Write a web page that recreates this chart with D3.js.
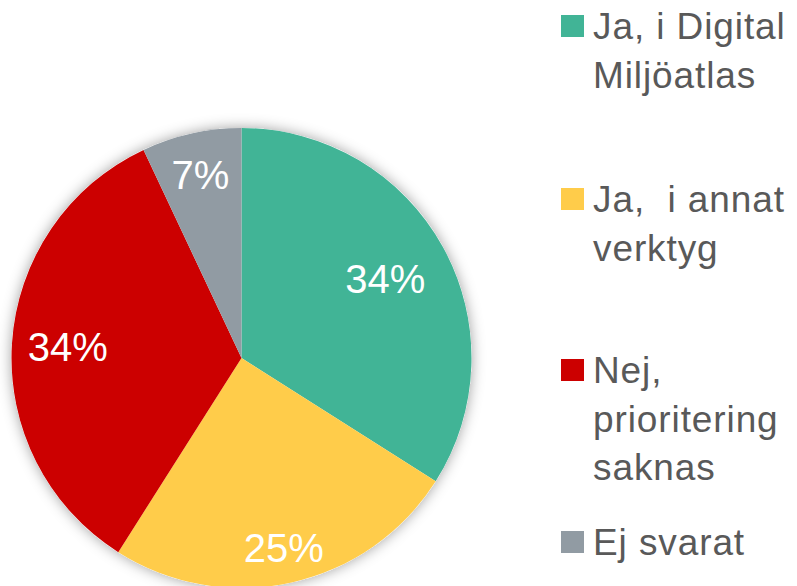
<!DOCTYPE html>
<html>
<head>
<meta charset="utf-8">
<script src="https://cdn.jsdelivr.net/npm/d3@7"></script>
<style>
  body { margin: 0; background: #fff; }
  svg { display: block; }
</style>
</head>
<body>
<div id="chart"></div>
<script>
// data
var labels = ["Ja, i Digital Miljöatlas", "Ja,  i annat verktyg", "Nej, prioritering saknas", "Ej svarat"];
var legendLines = [["Ja, i Digital", "Miljöatlas"], ["Ja,  i annat", "verktyg"], ["Nej,", "prioritering", "saknas"], ["Ej svarat"]];
var values = [34, 25, 34, 7];
var colors = ["#41b496", "#ffcc4a", "#cc0000", "#919ba3"];

var w = 797, h = 586;
var cx = 241.5, cy = 358, r = 230;
// label distance from centre per slice (excel "best fit" placement)
var labelR = [164, 194, 174, 188];

var svg = d3.select("#chart").append("svg")
    .attr("width", w)
    .attr("height", h);

var defs = svg.append("defs");
var f = defs.append("filter")
    .attr("id", "shadow")
    .attr("x", "-20%").attr("y", "-20%")
    .attr("width", "140%").attr("height", "140%");
f.append("feDropShadow")
    .attr("dx", 0).attr("dy", 0)
    .attr("stdDeviation", 7)
    .attr("flood-color", "#000")
    .attr("flood-opacity", 0.38);

var pie = d3.pie().sort(null).value(d => d);
var arcs = pie(values);
var arc = d3.arc().innerRadius(0).outerRadius(r);

var g = svg.append("g").attr("transform", "translate(" + cx + "," + cy + ")");

// shadow disc behind the pie
g.append("circle")
    .attr("r", r)
    .attr("fill", "#fff")
    .attr("filter", "url(#shadow)");

g.selectAll("path.slice")
    .data(arcs)
    .enter()
    .append("path")
    .attr("class", "slice")
    .attr("d", arc)
    .attr("fill", (d, i) => colors[i]);

g.selectAll("text.pct")
    .data(arcs)
    .enter()
    .append("text")
    .attr("class", "pct")
    .attr("transform", (d, i) => {
        var la = d3.arc().innerRadius(labelR[i]).outerRadius(labelR[i]);
        return "translate(" + la.centroid(d) + ")";
    })
    .attr("text-anchor", "middle")
    .attr("dy", "0.36em")
    .attr("fill", "#fff")
    .style("font-family", "'Liberation Sans', Arial, sans-serif")
    .style("font-size", "40px")
    .text(d => d.data + "%");

// legend
var legendTop = [39, 212, 383, 555];
var lg = svg.append("g");
legendLines.forEach(function(lines, i) {
    var item = lg.append("g");
    item.append("rect")
        .attr("x", 561)
        .attr("y", legendTop[i] - 24)
        .attr("width", 23)
        .attr("height", 22)
        .attr("fill", colors[i]);
    var t = item.append("text")
        .attr("x", 593)
        .attr("y", legendTop[i])
        .attr("fill", "#595959")
        .style("font-family", "'Liberation Sans', Arial, sans-serif")
        .style("font-size", "37px")
        .style("letter-spacing", "0.9px");
    lines.forEach(function(line, j) {
        t.append("tspan")
            .attr("x", 593)
            .attr("dy", j === 0 ? 0 : 48.5)
            .style("white-space", "pre")
            .text(line);
    });
});
</script>
</body>
</html>
